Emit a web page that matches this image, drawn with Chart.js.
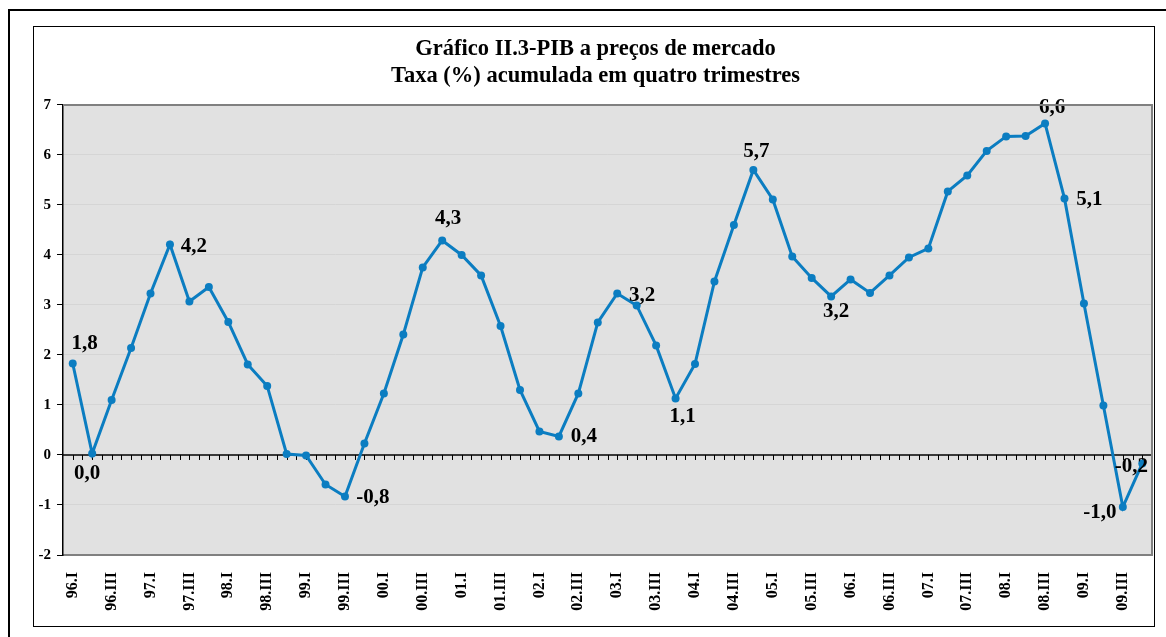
<!DOCTYPE html>
<html>
<head>
<meta charset="utf-8">
<script src="https://cdn.jsdelivr.net/npm/chart.js@4/dist/chart.umd.min.js"></script>
<style>
    body { margin: 0; background: #fff; overflow: hidden; }
    .outer { position: absolute; left: 8px; top: 9px; width: 1300px; height: 800px; border: 2px solid #000; }
    .inner { position: absolute; left: 33px; top: 26px; width: 1120px; height: 599px; border: 1.5px solid #000; }
    #chart { position: absolute; left: 35px; top: 28px; }
</style>
</head>
<body>
<div class="outer"></div>
<div class="inner"></div>
<canvas id="chart" width="1121" height="597"></canvas>
<script>
// Quarters (categories)
const quarters = [
    '96.I', '96.II', '96.III', '96.IV', '97.I', '97.II', '97.III', '97.IV',
    '98.I', '98.II', '98.III', '98.IV', '99.I', '99.II', '99.III', '99.IV',
    '00.I', '00.II', '00.III', '00.IV', '01.I', '01.II', '01.III', '01.IV',
    '02.I', '02.II', '02.III', '02.IV', '03.I', '03.II', '03.III', '03.IV',
    '04.I', '04.II', '04.III', '04.IV', '05.I', '05.II', '05.III', '05.IV',
    '06.I', '06.II', '06.III', '06.IV', '07.I', '07.II', '07.III', '07.IV',
    '08.I', '08.II', '08.III', '08.IV', '09.I', '09.II', '09.III', '09.IV'
];

// PIB growth rate (%), accumulated over four quarters
const pibRate = [
    1.83, 0.03, 1.10, 2.14, 3.23, 4.21, 3.07, 3.36,
    2.66, 1.81, 1.38, 0.02, -0.01, -0.59, -0.83, 0.23,
    1.23, 2.41, 3.75, 4.29, 4.00, 3.59, 2.58, 1.30,
    0.47, 0.37, 1.23, 2.65, 3.23, 2.99, 2.19, 1.13,
    1.82, 3.47, 4.60, 5.70, 5.11, 3.97, 3.54, 3.17,
    3.51, 3.24, 3.59, 3.95, 4.13, 5.27, 5.59, 6.08,
    6.37, 6.38, 6.63, 5.13, 3.03, 0.99, -1.04, -0.17
];

// Y axis ticks
const yMin = -2;
const yMax = 7;
const yStep = 1;

// Which points get a value label
const labelIdx = [0, 1, 5, 14, 19, 25, 28, 31, 35, 39, 50, 51, 54, 55];
// Label offsets from the point (px)
const labelDx = [12, -5, 24, 28, 6, 25, 25, 7, 3, 5, 7, 25, -23, -11];
const labelDy = [-20, 20, 2, 1, -22, 0, 2, 18, -18, 15, -16, 1, 6, 3];

const serif = '"Liberation Serif", "Times New Roman", serif';
const lineBlue = '#0b7dc1';

// Plot background and frame
const plotFrame = {
    id: 'plotFrame',
    beforeDraw(chart) {
        const a = chart.chartArea;
        const ctx = chart.ctx;
        ctx.save();
        ctx.fillStyle = '#e1e1e1';
        ctx.fillRect(a.left, a.top, a.right - a.left, a.bottom - a.top);
        ctx.restore();
    },
    afterDraw(chart) {
        const a = chart.chartArea;
        const ctx = chart.ctx;
        ctx.save();
        ctx.strokeStyle = '#808080';
        ctx.lineWidth = 2;
        ctx.beginPath();
        ctx.moveTo(a.left, a.top);
        ctx.lineTo(a.right, a.top);
        ctx.lineTo(a.right, a.bottom);
        ctx.stroke();
        ctx.restore();
    }
};

// Zero line with small tick marks
const zeroAxis = {
    id: 'zeroAxis',
    beforeDatasetsDraw(chart) {
        const xs = chart.scales.x;
        const ys = chart.scales.y;
        const ctx = chart.ctx;
        const y0 = ys.getPixelForValue(0);
        const step = xs.getPixelForValue(1) - xs.getPixelForValue(0);
        ctx.save();
        ctx.strokeStyle = '#000';
        ctx.lineWidth = 1.5;
        ctx.beginPath();
        ctx.moveTo(chart.chartArea.left, y0);
        ctx.lineTo(chart.chartArea.right, y0);
        ctx.stroke();
        ctx.lineWidth = 1;
        ctx.beginPath();
        for (let i = 0; i < quarters.length; i++) {
            const xc = Math.round(xs.getPixelForValue(i)) + 0.5;
            const xb = Math.round(xs.getPixelForValue(i) + step / 2) + 0.5;
            ctx.moveTo(xc, y0);
            ctx.lineTo(xc, y0 + 5);
            ctx.moveTo(xb, y0);
            ctx.lineTo(xb, y0 + 5);
        }
        ctx.stroke();
        ctx.restore();
    }
};

// Value labels on selected points
const valueLabels = {
    id: 'valueLabels',
    afterDatasetsDraw(chart) {
        const meta = chart.getDatasetMeta(0);
        const ctx = chart.ctx;
        ctx.save();
        ctx.font = 'bold 21px ' + serif;
        ctx.fillStyle = '#000';
        ctx.textAlign = 'center';
        ctx.textBaseline = 'middle';
        labelIdx.forEach((idx, k) => {
            const pt = meta.data[idx];
            const text = pibRate[idx].toFixed(1).replace('.', ',');
            ctx.fillText(text, pt.x + labelDx[k], pt.y + labelDy[k]);
        });
        ctx.restore();
    }
};

const ctx = document.getElementById('chart').getContext('2d');
new Chart(ctx, {
    type: 'line',
    data: {
        labels: quarters,
        datasets: [{
            data: pibRate,
            borderColor: lineBlue,
            backgroundColor: lineBlue,
            borderWidth: 3,
            pointRadius: 4,
            pointBackgroundColor: lineBlue,
            pointBorderWidth: 0,
            tension: 0
        }]
    },
    options: {
        responsive: false,
        animation: false,
        layout: { padding: { left: 0, right: 0, top: 0, bottom: 0 } },
        plugins: {
            legend: { display: false },
            tooltip: { enabled: false },
            title: {
                display: true,
                text: ['Gráfico II.3-PIB a preços de mercado', 'Taxa (%) acumulada em quatro trimestres'],
                color: '#000',
                font: { family: serif, size: 22.5, weight: 'bold', lineHeight: 1.22 },
                padding: { top: 7, bottom: 15 }
            }
        },
        scales: {
            x: {
                offset: true,
                grid: { display: false, drawTicks: false },
                border: { display: true, color: '#808080', width: 2 },
                ticks: {
                    autoSkip: false,
                    maxRotation: 90,
                    minRotation: 90,
                    padding: 17,
                    color: '#000',
                    font: { family: serif, size: 16, weight: 'bold' },
                    callback: function(value, index) {
                        return index % 2 === 0 ? quarters[index] : '';
                    }
                },
                afterFit(scale) {
                    scale.height = 70;
                    scale.paddingLeft = 0;
                    scale.paddingRight = 0;
                }
            },
            y: {
                min: yMin,
                max: yMax,
                grid: {
                    color: (c) => (c.tick && (c.tick.value === yMin || c.tick.value === yMax || c.tick.value === 0)) ? 'rgba(0,0,0,0)' : '#d5d5d5',
                    tickColor: '#000',
                    tickLength: 6,
                    lineWidth: 1
                },
                border: { display: true, color: '#000', width: 1.5 },
                ticks: {
                    stepSize: yStep,
                    padding: 6,
                    color: '#000',
                    font: { family: serif, size: 15, weight: 'bold' }
                },
                afterFit(scale) { scale.width = 28; }
            }
        }
    },
    plugins: [plotFrame, zeroAxis, valueLabels]
});
</script>
</body>
</html>
